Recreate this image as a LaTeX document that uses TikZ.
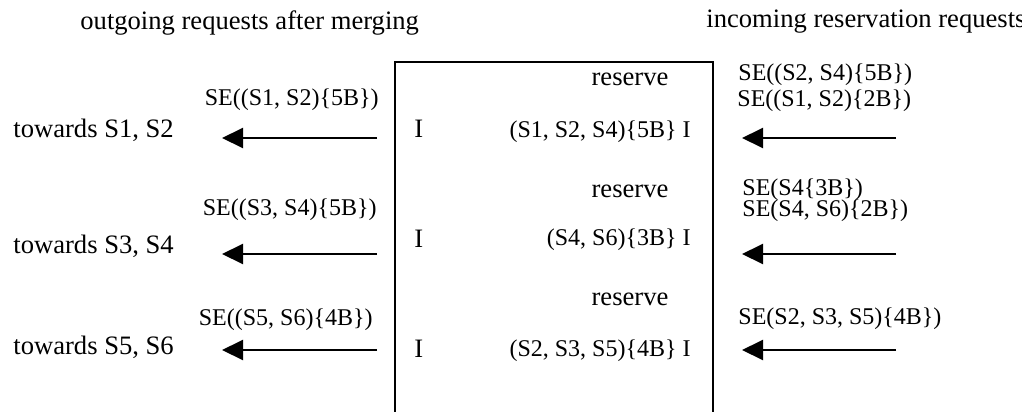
\documentclass[tikz,border=0pt]{standalone}
\usepackage{fontspec}
\setmainfont{Liberation Serif}
\usetikzlibrary{arrows.meta}
\begin{document}
\begin{tikzpicture}[x=0.5pt,y=-0.5pt,
  txt/.style={inner sep=0pt,font=\fontsize{13.3}{16}\selectfont},
  req/.style={inner sep=0pt,font=\fontsize{12}{14}\selectfont},
  msg/.style={draw=black,line width=1pt,-{Triangle[length=10.5pt,width=10pt]}},
  frame/.style={draw=black,line width=1pt}]
\useasboundingbox (0,0) rectangle (1022,412);

% titles
\node[txt,anchor=base west] (tout) at (80,29) {outgoing requests after merging};
\node[txt,anchor=base west] (tin) at (706,27) {incoming reservation requests};

% the switch box (open at the bottom)
\coordinate (bl) at (395,412);
\coordinate (tl) at (395,62);
\coordinate (tr) at (713,62);
\coordinate (br) at (713,412);
\draw[frame] (bl) -- (tl) -- (tr) -- (br);

% arrow end points
\coordinate (li1) at (377,138); \coordinate (lo1) at (222,138);
\coordinate (li2) at (377,254); \coordinate (lo2) at (222,254);
\coordinate (li3) at (377,350); \coordinate (lo3) at (222,350);
\coordinate (ri1) at (896,138); \coordinate (ro1) at (742,138);
\coordinate (ri2) at (896,254); \coordinate (ro2) at (742,254);
\coordinate (ri3) at (896,350); \coordinate (ro3) at (742,350);

\draw[msg] (li1) -- (lo1);
\draw[msg] (li2) -- (lo2);
\draw[msg] (li3) -- (lo3);
\draw[msg] (ri1) -- (ro1);
\draw[msg] (ri2) -- (ro2);
\draw[msg] (ri3) -- (ro3);

% destinations
\node[txt,anchor=base west] (d1) at (13,137) {towards S1, S2};
\node[txt,anchor=base west] (d2) at (13,253) {towards S3, S4};
\node[txt,anchor=base west] (d3) at (13,354) {towards S5, S6};

% outgoing merged requests
\node[req,anchor=base east] (o1) at (379,105) {SE((S1, S2)\{5B\})};
\node[req,anchor=base east] (o2) at (377,215) {SE((S3, S4)\{5B\})};
\node[req,anchor=base east] (o3) at (373,325) {SE((S5, S6)\{4B\})};

% incoming requests
\node[req,anchor=base west] (i1a) at (738,80) {SE((S2, S4)\{5B\})};
\node[req,anchor=base west] (i1b) at (737,106) {SE((S1, S2)\{2B\})};
\node[req,anchor=base west] (i2a) at (742,195) {SE(S4\{3B\})};
\node[req,anchor=base west] (i2b) at (742,216) {SE(S4, S6)\{2B\})};
\node[req,anchor=base west] (i3) at (738,324) {SE(S2, S3, S5)\{4B\})};

% box contents
\node[txt,anchor=base] (r1) at (630,85) {reserve};
\node[txt,anchor=base] (r2) at (630,197) {reserve};
\node[txt,anchor=base] (r3) at (630,305) {reserve};

\node[txt,anchor=base west] (p1) at (414,137) {I};
\node[txt,anchor=base west] (p2) at (414,247) {I};
\node[txt,anchor=base west] (p3) at (414,357) {I};

\node[req,anchor=base east] (q1) at (691,137) {(S1, S2, S4)\{5B\} I};
\node[req,anchor=base east] (q2) at (691,245) {(S4, S6)\{3B\} I};
\node[req,anchor=base east] (q3) at (691,356) {(S2, S3, S5)\{4B\} I};
\end{tikzpicture}
\end{document}
